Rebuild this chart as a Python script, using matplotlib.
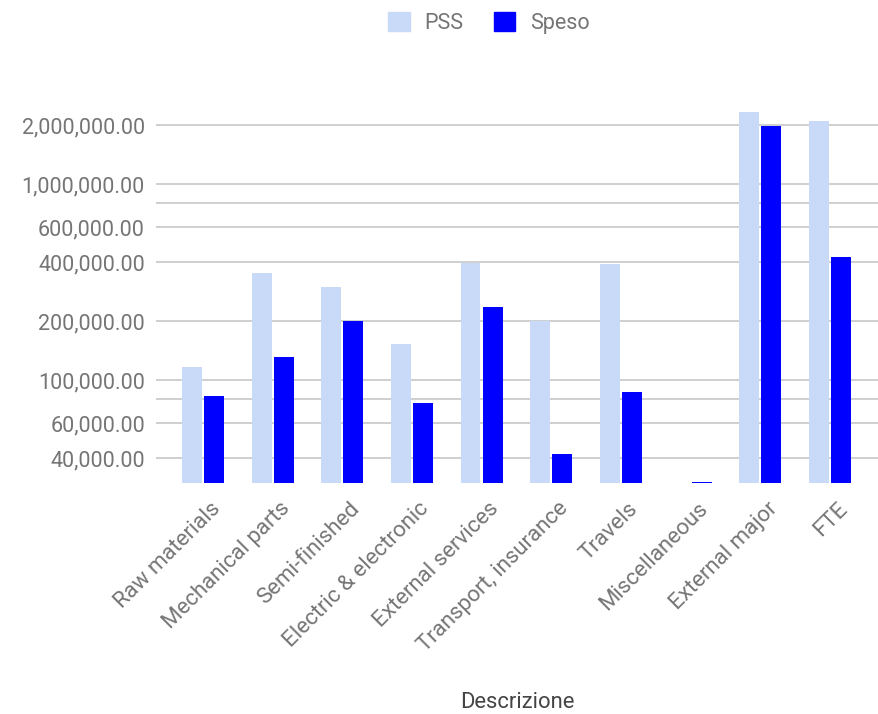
import matplotlib.pyplot as plt
import matplotlib.transforms as mtransforms
from matplotlib.patches import Patch
from matplotlib.ticker import FixedLocator, FuncFormatter, NullFormatter
import numpy as np

categories = ["Raw materials", "Mechanical parts", "Semi-finished", "Electric & electronic",
              "External services", "Transport, insurance", "Travels", "Miscellaneous",
              "External major", "FTE"]
pss = [117000, 350000, 299000, 152000, 397000, 199000, 391000, 0, 2340000, 2096000]
speso = [82800, 130600, 199000, 76000, 235700, 42100, 86500, 30300, 1970000, 425600]

major_ticks = [40000, 60000, 100000, 200000, 400000, 600000, 1000000, 2000000]
minor_ticks = [80000, 800000]

plt.rcParams["font.family"] = ["Roboto", "DejaVu Sans"]

fig = plt.figure(figsize=(8.79, 7.14), dpi=100)
ax = fig.add_axes([156 / 879, 1 - 483.3 / 714, (878 - 156) / 879, (483.3 - 100) / 714])

x = np.arange(len(categories))
w = 0.287
ax.bar(x - 0.16, pss, w, color="#c9daf8", zorder=3, log=True)
ax.bar(x + 0.16, speso, w, color="#0000ff", zorder=3, log=True)

ax.set_yscale("log")
ax.set_ylim(29720, 2683000)
ax.set_xlim(-0.675, 9.69)

ax.yaxis.set_major_locator(FixedLocator(major_ticks))
ax.yaxis.set_minor_locator(FixedLocator(minor_ticks))
ax.yaxis.set_major_formatter(FuncFormatter(lambda v, p: f"{v:,.2f}"))
ax.yaxis.set_minor_formatter(NullFormatter())
ax.grid(axis="y", which="both", color="#cccccc", linewidth=1.3, zorder=0)
ax.tick_params(axis="y", which="both", length=0, pad=8, labelsize=15.5, labelcolor="#757575")

ax.set_xticks(x)
ax.set_xticklabels(categories, rotation=45, ha="right", va="center",
                   rotation_mode="anchor", fontsize=16, color="#757575")
ax.tick_params(axis="x", length=0, pad=16)
shift = mtransforms.ScaledTranslation(14 / 100, 0, fig.dpi_scale_trans)
for lbl in ax.get_xticklabels():
    lbl.set_transform(lbl.get_transform() + shift)

for s in ax.spines.values():
    s.set_visible(False)

fig.text(517 / 879, 1 - 702.5 / 714, "Descrizione", ha="center", va="center",
         fontsize=15.8, color="#444444")

handles = [Patch(color="#c9daf8", label="PSS"), Patch(color="#0000ff", label="Speso")]
fig.legend(handles=handles, loc="center", bbox_to_anchor=(489 / 879, 1 - 23 / 714),
           ncol=2, frameon=False, fontsize=15.5, labelcolor="#757575",
           handlelength=1.0, handleheight=1.0, handletextpad=0.7, columnspacing=1.4)

fig.savefig("out.png", dpi=100)
